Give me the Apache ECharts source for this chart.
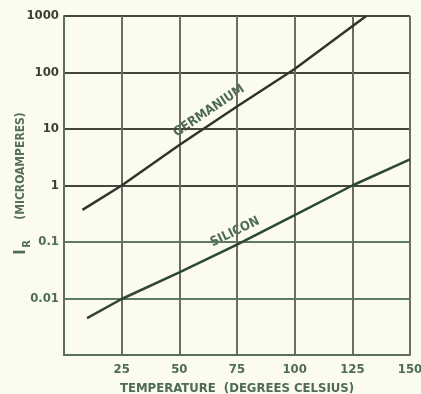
<!DOCTYPE html>
<html><head><meta charset="utf-8">
<script src="https://cdn.jsdelivr.net/npm/echarts@6/dist/echarts.min.js"></script>
<style>html,body{margin:0;padding:0;background:#fbfbee}#c{width:421px;height:394px}</style>
</head><body><div id="c"></div>
<script>
var xTicks = [0, 25, 50, 75, 100, 125, 150];
var yTicks = [0.001, 0.01, 0.1, 1, 10, 100, 1000];
var germanium = [[8, 0.37], [25, 1], [50, 5.2], [75, 25], [100, 115], [131, 1000]];
var silicon = [[10, 0.0045], [25, 0.0098], [50, 0.029], [75, 0.09], [100, 0.3], [125, 1], [150, 2.9]];
var labelsG = 'GERMANIUM', labelsS = 'SILICON';

var FONT = '"DejaVu Sans Condensed","Liberation Sans Narrow",sans-serif';
var GREEN = '#4e6c55', DARK = '#3c3e36';
var chart = echarts.init(document.getElementById('c'));
chart.setOption({
  backgroundColor: '#fbfbee',
  animation: false,
  grid: {left: 64, right: 11, top: 16, bottom: 39, outerBoundsMode: 'none', containLabel: false},
  xAxis: {
    type: 'value', min: 0, max: 150, interval: 25,
    axisLine: {show: true, lineStyle: {color: '#5b6f5c', width: 2}},
    axisTick: {show: false},
    splitLine: {show: true, lineStyle: {color: '#6a6d62', width: 2}},
    axisLabel: {color: GREEN, fontFamily: FONT, fontSize: 13, fontWeight: 'bold', margin: 8,
      formatter: function (v) { return v === 0 ? '' : String(v); }},
    name: 'TEMPERATURE  (DEGREES CELSIUS)', nameLocation: 'middle', nameGap: 27,
    nameTextStyle: {color: GREEN, fontFamily: FONT, fontSize: 13, fontWeight: 'bold'}
  },
  yAxis: {
    type: 'log', logBase: 10, min: 0.001, max: 1000,
    axisLine: {show: true, lineStyle: {color: '#5b6f5c', width: 2}},
    axisTick: {show: false},
    splitLine: {show: true, lineStyle: {color: ['#5f7a62', '#5f7a62', '#5f7a62', '#45473f', '#45473f', '#45473f', '#45473f'], width: 2}},
    axisLabel: {fontFamily: FONT, fontSize: 13, fontWeight: 'bold', margin: 5,
      formatter: function (v) {
        var e = Math.round(Math.log10(v));
        var map = {'-2': '0.01', '-1': '0.1', '0': '1', '1': '10', '2': '100', '3': '1000'};
        var s = map[String(e)];
        if (!s) return '';
        return e < 0 ? '{g|' + s + '}' : '{d|' + s + '}';
      },
      rich: {g: {color: GREEN, fontFamily: FONT, fontSize: 13, fontWeight: 'bold'},
             d: {color: DARK, fontFamily: FONT, fontSize: 13, fontWeight: 'bold'}}
    }
  },
  series: [
    {type: 'line', data: germanium, showSymbol: false, smooth: false,
      lineStyle: {color: '#2f342c', width: 2.5}},
    {type: 'line', data: silicon, showSymbol: false, smooth: false,
      lineStyle: {color: '#2f4634', width: 2.5}}
  ],
  graphic: [
    {type: 'text', x: 209, y: 111, rotation: 34 * Math.PI / 180,
      style: {text: labelsG, fill: GREEN, font: 'bold 13px ' + FONT, align: 'center', verticalAlign: 'middle',
        backgroundColor: '#fbfbee', padding: [0, 2]}},
    {type: 'text', x: 235, y: 232, rotation: 26 * Math.PI / 180,
      style: {text: labelsS, fill: GREEN, font: 'bold 13px ' + FONT, align: 'center', verticalAlign: 'middle',
        backgroundColor: '#fbfbee', padding: [0, 2]}},
    {type: 'text', x: 21, y: 166, rotation: Math.PI / 2,
      style: {text: '(MICROAMPERES)', fill: '#55705b', font: 'bold 12px ' + FONT, align: 'center', verticalAlign: 'middle'}},
    {type: 'text', x: 21, y: 252, rotation: Math.PI / 2,
      style: {text: 'I', fill: GREEN, font: 'bold 16px ' + FONT, align: 'center', verticalAlign: 'middle'}},
    {type: 'text', x: 27, y: 244, rotation: Math.PI / 2,
      style: {text: 'R', fill: GREEN, font: 'bold 11px ' + FONT, align: 'center', verticalAlign: 'middle'}}
  ]
});
</script></body></html>
